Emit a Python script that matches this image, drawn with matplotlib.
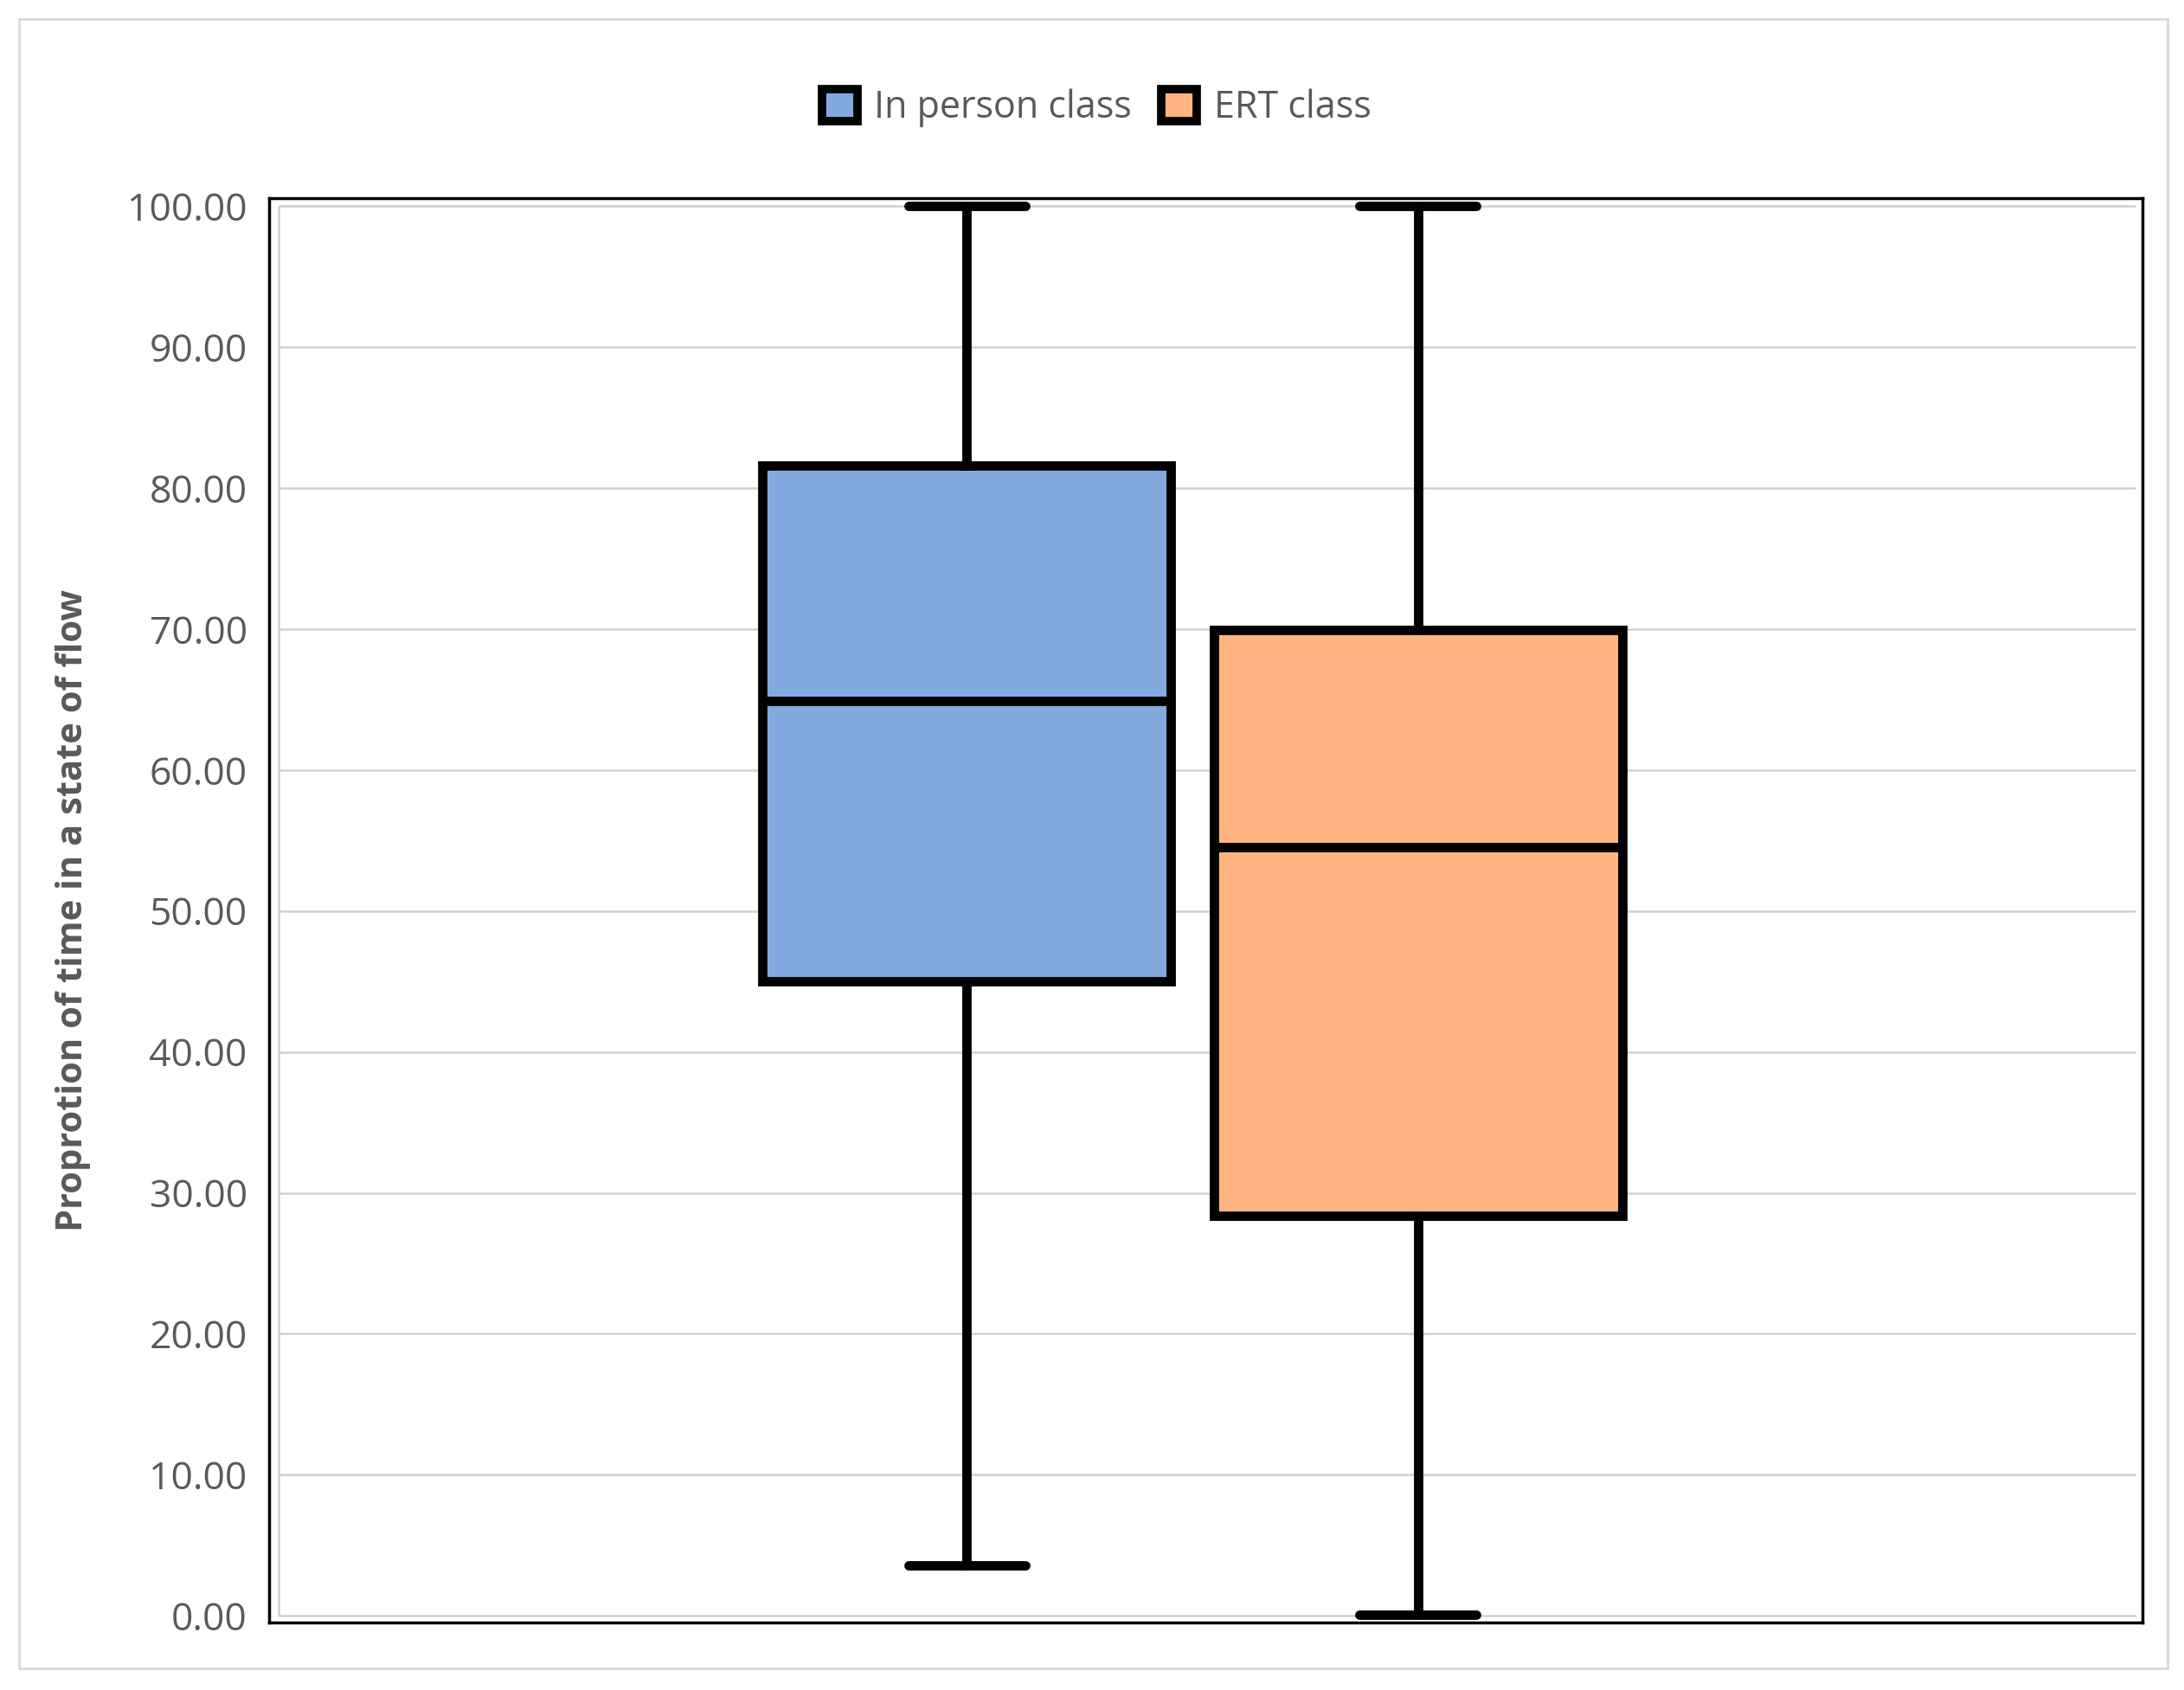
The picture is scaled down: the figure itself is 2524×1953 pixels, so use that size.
import matplotlib
matplotlib.use("Agg")
import matplotlib.pyplot as plt
from matplotlib.patches import Patch, Rectangle

# ---- data ----
series = ["In person class", "ERT class"]
whislo = [3.6, 0.1]
q1 = [45.0, 28.4]
med = [64.9, 54.5]
q3 = [81.6, 69.9]
whishi = [100.0, 100.0]
colors = ["#82AADF", "#FFB380"]
yticks = [0, 10, 20, 30, 40, 50, 60, 70, 80, 90, 100]
ytick_labels = ["%.2f" % v for v in yticks]

plt.rcParams['font.family'] = ['Open Sans', 'DejaVu Sans']
TXT = "#595959"

fig = plt.figure(figsize=(25.24, 19.53), dpi=100)
# outer chart border
fig.patches.append(Rectangle((0.0087, 0.0128), 0.9838, 0.9759, transform=fig.transFigure,
                             fill=False, edgecolor="#d9d9d9", linewidth=2.0, zorder=0))

ax = fig.add_axes([0.1231, 0.0398, 0.8578, 0.8432])
ax.set_xlim(-0.00525, 1.00375)
ax.set_ylim(-0.49, 100.59)

# gridlines
ax.hlines(yticks, 0, 1, colors="#d0d0d0", linewidth=1.8, zorder=1)
ax.vlines([0], 0, 100, colors="#d0d0d0", linewidth=1.8, zorder=1)

positions = [0.3706, 0.6137]
stats = []
for i, s in enumerate(series):
    stats.append(dict(label=s, whislo=whislo[i], q1=q1[i], med=med[i],
                      q3=q3[i], whishi=whishi[i], fliers=[]))

lw = 7.8
bp = ax.bxp(stats, positions=positions, widths=0.22, capwidths=0.063,
            patch_artist=True, showfliers=False, manage_ticks=False,
            boxprops=dict(linewidth=lw, edgecolor="black"),
            medianprops=dict(linewidth=lw, color="black", solid_capstyle="butt"),
            whiskerprops=dict(linewidth=lw, color="black"),
            capprops=dict(linewidth=lw, color="black", solid_capstyle="round"),
            zorder=3)
for patch, c in zip(bp["boxes"], colors):
    patch.set_facecolor(c)
    patch.set_joinstyle("miter")

ax.set_xticks([])
ax.set_yticks(yticks)
ax.set_yticklabels(ytick_labels, fontsize=32, color=TXT)
ax.tick_params(axis="y", length=0, pad=18)
for sp in ax.spines.values():
    sp.set_linewidth(2.5)
    sp.set_color("black")

ax.set_ylabel("Proprotion of time in a state of flow", fontsize=30, color=TXT,
              fontweight="bold", labelpad=30)

handles = [Patch(facecolor=c, edgecolor="black", linewidth=7, label=s)
           for s, c in zip(series, colors)]
fig.legend(handles=handles, loc="center", bbox_to_anchor=(0.502, 0.936), ncol=2,
           frameon=False, fontsize=31, labelcolor=TXT, handlelength=0.95,
           handleheight=0.95, handletextpad=0.45, columnspacing=0.8)

fig.savefig("out.png", dpi=100, facecolor="white")
